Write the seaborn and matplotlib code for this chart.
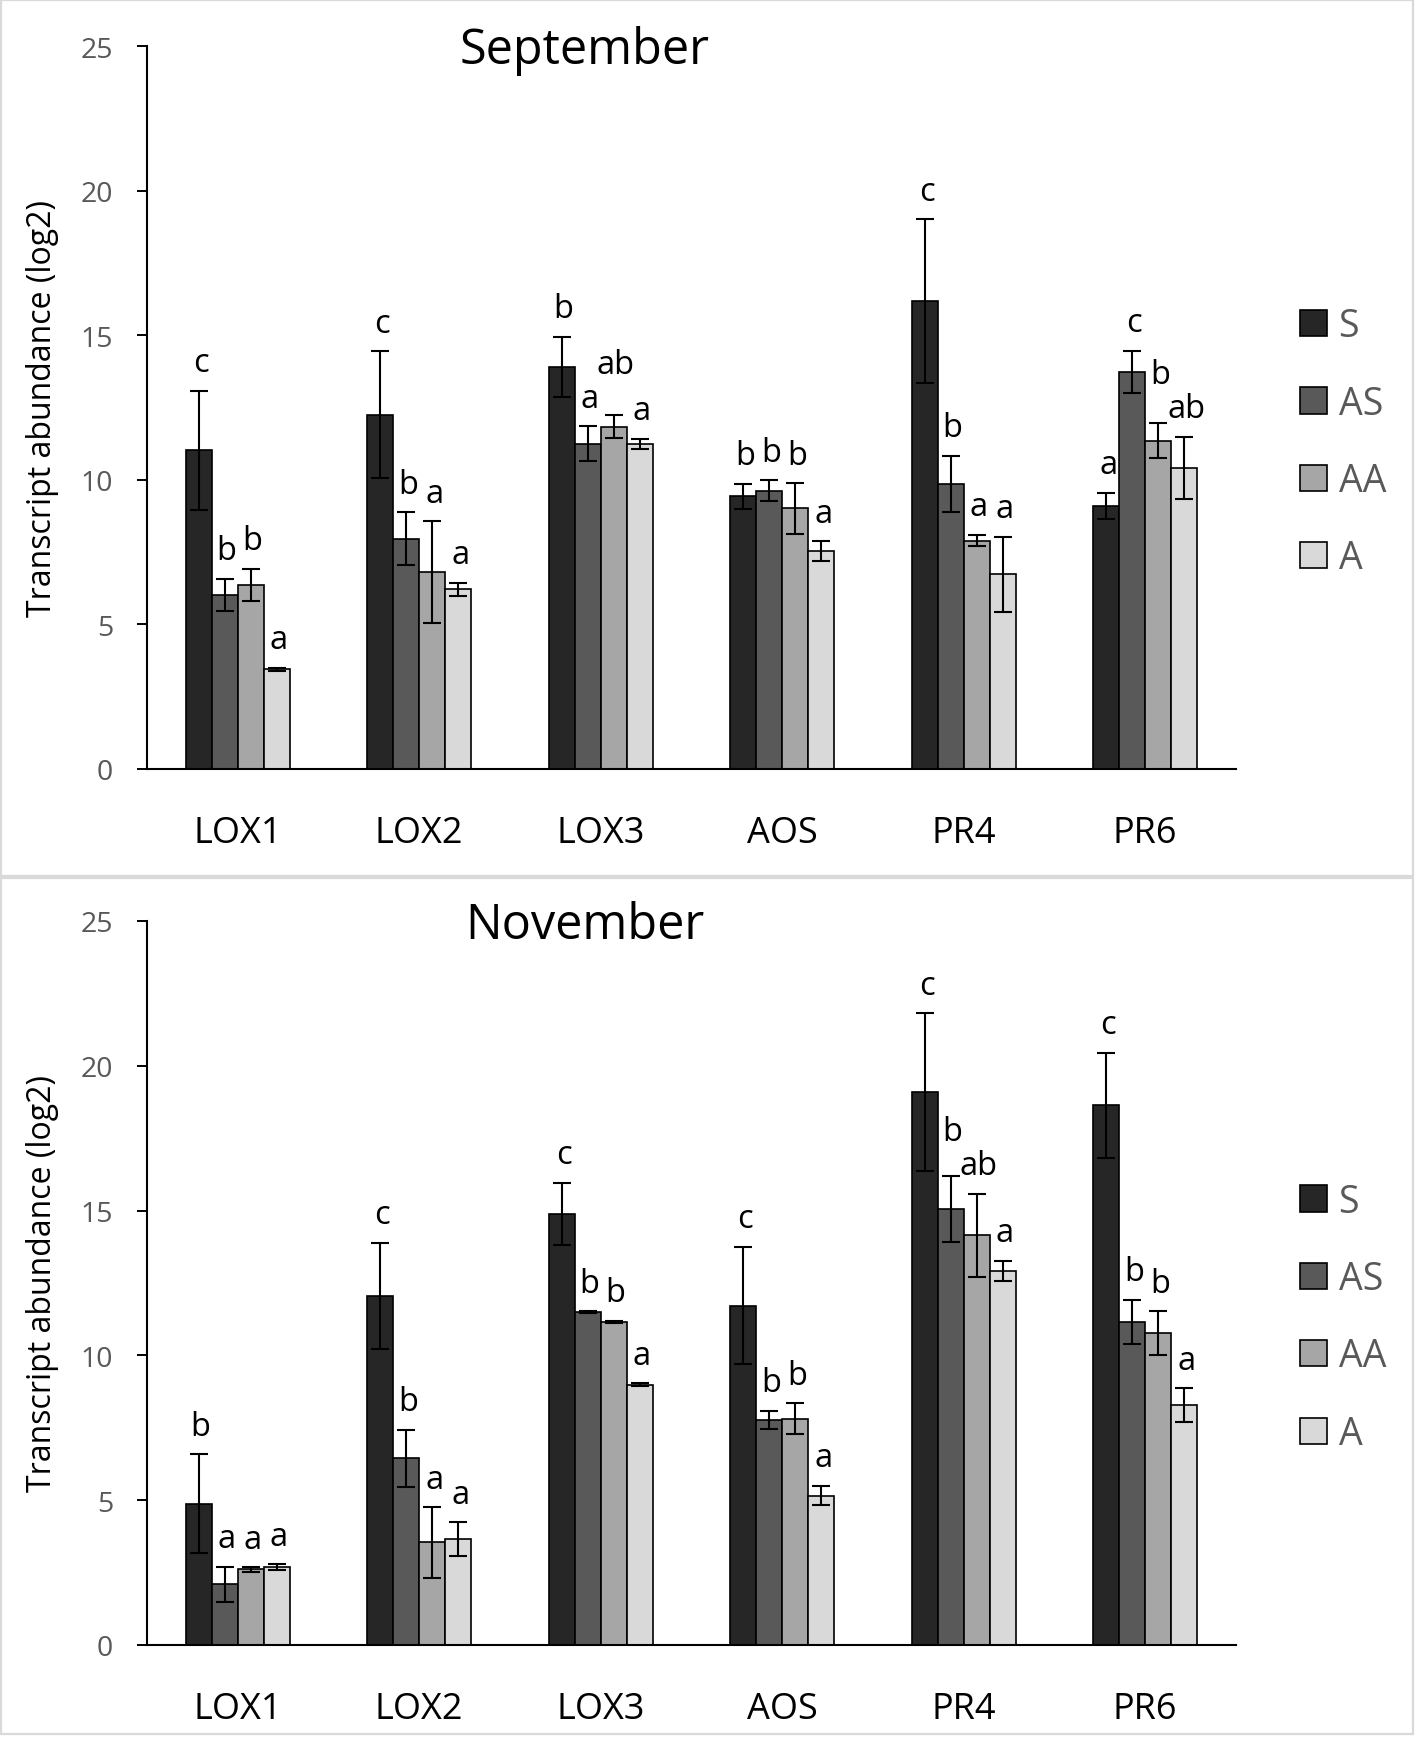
import numpy as np
import pandas as pd
import matplotlib
matplotlib.use("Agg")
import matplotlib.pyplot as plt
from matplotlib.patches import Rectangle, Patch
import seaborn as sns

# ---------------- data ----------------
genes = ["LOX1", "LOX2", "LOX3", "AOS", "PR4", "PR6"]
treatments = ["S", "AS", "AA", "A"]

sep_S = [11.02, 12.25, 13.90, 9.43, 16.18, 9.11]
sep_AS = [6.02, 7.96, 11.25, 9.62, 9.85, 13.73]
sep_AA = [6.37, 6.81, 11.83, 9.01, 7.90, 11.35]
sep_A = [3.45, 6.21, 11.25, 7.53, 6.73, 10.41]
sep_err_S = [2.05, 2.20, 1.04, 0.43, 2.83, 0.45]
sep_err_AS = [0.55, 0.92, 0.60, 0.36, 0.98, 0.73]
sep_err_AA = [0.56, 1.76, 0.40, 0.87, 0.19, 0.60]
sep_err_A = [0.05, 0.23, 0.17, 0.35, 1.30, 1.08]
sep_let_S = ["c", "c", "b", "b", "c", "a"]
sep_let_AS = ["b", "b", "a", "b", "b", "c"]
sep_let_AA = ["b", "a", "ab", "b", "a", "b"]
sep_let_A = ["a", "a", "a", "a", "a", "ab"]

nov_S = [4.87, 12.05, 14.89, 11.72, 19.10, 18.64]
nov_AS = [2.09, 6.44, 11.50, 7.77, 15.06, 11.16]
nov_AA = [2.61, 3.54, 11.16, 7.81, 14.15, 10.77]
nov_A = [2.69, 3.65, 8.99, 5.16, 12.92, 8.29]
nov_err_S = [1.71, 1.83, 1.08, 2.03, 2.72, 1.81]
nov_err_AS = [0.61, 0.99, 0.03, 0.32, 1.15, 0.76]
nov_err_AA = [0.08, 1.22, 0.03, 0.53, 1.43, 0.75]
nov_err_A = [0.10, 0.58, 0.04, 0.34, 0.34, 0.58]
nov_let_S = ["b", "c", "c", "c", "c", "c"]
nov_let_AS = ["a", "b", "b", "b", "b", "b"]
nov_let_AA = ["a", "a", "b", "b", "ab", "b"]
nov_let_A = ["a", "a", "a", "a", "a", "a"]

colors = ["#262626", "#595959", "#A6A6A6", "#D9D9D9"]
panel_titles = ["September", "November"]
ylabel = "Transcript abundance (log2)"
yticks = [0, 5, 10, 15, 20, 25]

panels = [
    dict(vals=[sep_S, sep_AS, sep_AA, sep_A],
         errs=[sep_err_S, sep_err_AS, sep_err_AA, sep_err_A],
         lets=[sep_let_S, sep_let_AS, sep_let_AA, sep_let_A]),
    dict(vals=[nov_S, nov_AS, nov_AA, nov_A],
         errs=[nov_err_S, nov_err_AS, nov_err_AA, nov_err_A],
         lets=[nov_let_S, nov_let_AS, nov_let_AA, nov_let_A]),
]

# ---------------- style ----------------
sns.set_theme(style="white")
plt.rcParams["font.family"] = ["Open Sans", "DejaVu Sans"]
GRAY = "#595959"

W, H = 1416, 1749
fig = plt.figure(figsize=(W / 100, H / 100), dpi=100)

# panel frames
for (y0, y1) in [(1, 877), (879, 1735)]:
    fig.patches.append(Rectangle((1 / W, 1 - y1 / H), (1413 - 1) / W, (y1 - y0) / H,
                                 transform=fig.transFigure, fill=False,
                                 edgecolor="#D9D9D9", linewidth=1.6))

axes_px = [(147, 1236, 47, 770), (147, 1236, 922, 1646)]
letter_groups = []  # (ax, list of per-gene lists of texts)

for p, (x0, x1, ytop, ybot), title in zip(panels, axes_px, panel_titles):
    ax = fig.add_axes([x0 / W, 1 - ybot / H, (x1 - x0) / W, (ybot - ytop) / H])
    rows = []
    for t, v in zip(treatments, p["vals"]):
        for g, val in zip(genes, v):
            rows.append(dict(gene=g, treatment=t, value=val))
    df = pd.DataFrame(rows)
    sns.barplot(data=df, x="gene", y="value", hue="treatment", order=genes,
                hue_order=treatments, palette=colors, width=0.573, gap=0,
                edgecolor="black", linewidth=1.2, errorbar=None, ax=ax)

    groups = [[None] * len(treatments) for _ in genes]
    bar_containers = list(ax.containers)
    for ci, cont in enumerate(bar_containers):
        xs = [b.get_x() + b.get_width() / 2 for b in cont]
        ys = [b.get_height() for b in cont]
        ax.errorbar(xs, ys, yerr=p["errs"][ci], fmt="none", ecolor="black",
                    elinewidth=1.5, capsize=6.8, capthick=1.5, zorder=5)
        for gi, (x, y, e, lt) in enumerate(zip(xs, ys, p["errs"][ci], p["lets"][ci])):
            txt = ax.text(x + 0.01, y + e + 0.4, lt, ha="center", va="bottom",
                          fontsize=23.5, color="black", zorder=6)
            groups[gi][ci] = txt
    letter_groups.append((ax, groups))

    ax.set_xlim(-0.5, 5.5)
    ax.set_ylim(0, 25)
    ax.set_yticks(yticks)
    ax.set_xlabel("")
    ax.set_ylabel(ylabel, fontsize=23, color="black", va="center")
    ax.yaxis.set_label_coords(-0.0964, 0.5)
    ax.tick_params(axis="y", which="both", left=True, length=7.5, width=1.4,
                   color="black", labelsize=20.5, labelcolor=GRAY, pad=17)
    ax.tick_params(axis="x", bottom=False, labelsize=26, labelcolor="black", pad=27)
    for s in ["top", "right"]:
        ax.spines[s].set_visible(False)
    for s in ["left", "bottom"]:
        ax.spines[s].set_color("black")
        ax.spines[s].set_linewidth(1.5)

    ax.text(0.402, 0.994, title, transform=ax.transAxes, ha="center", va="center",
            fontsize=35, color="black")

    old = ax.get_legend()
    if old is not None:
        old.remove()
    handles = [Patch(facecolor=c, edgecolor="black", linewidth=1.2) for c in colors]
    leg = ax.legend(handles, treatments, loc="center left",
                    bbox_to_anchor=(1.059, 0.452), frameon=False, borderpad=0,
                    borderaxespad=0, fontsize=27, handlelength=0.72,
                    handleheight=0.7, handletextpad=0.3, labelspacing=1.05)
    for t in leg.get_texts():
        t.set_color(GRAY)

# lift the higher of two neighbouring significance letters when they collide
fig.canvas.draw()
renderer = fig.canvas.get_renderer()
for ax, groups in letter_groups:
    px_per_unit = ax.bbox.height / 25.0
    for texts in groups:
        for k in range(len(texts) - 1):
            t1, t2 = texts[k], texts[k + 1]
            b1 = t1.get_window_extent(renderer)
            b2 = t2.get_window_extent(renderer)
            if b1.overlaps(b2):
                hi, lo = (t1, t2) if t1.get_position()[1] >= t2.get_position()[1] else (t2, t1)
                bh = hi.get_window_extent(renderer)
                bl = lo.get_window_extent(renderer)
                shift = (bl.y1 - bh.y0 + 1) / px_per_unit
                xh, yh = hi.get_position()
                hi.set_position((xh, yh + shift))

fig.savefig("out.png", dpi=100)
